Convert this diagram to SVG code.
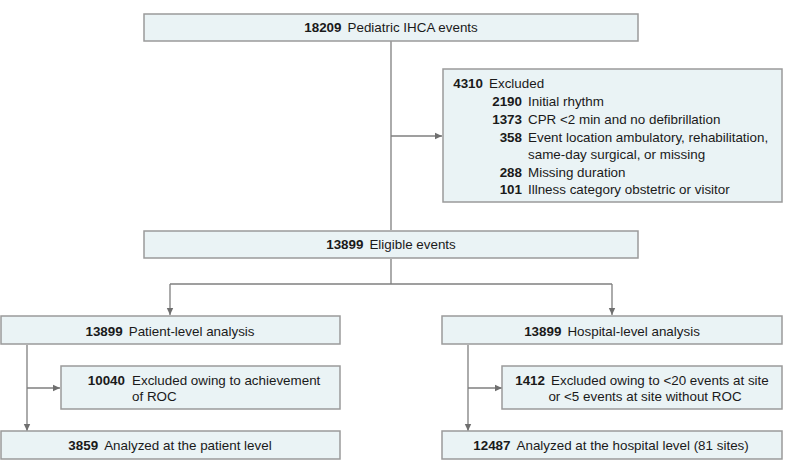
<svg xmlns="http://www.w3.org/2000/svg" width="789" height="473" viewBox="0 0 789 473">
<defs>
<style>
.box{fill:#eaf3f5;stroke:#9a9a9a;stroke-width:1.5}
.ln{fill:none;stroke:#7f7f7f;stroke-width:1.3}
text{font-family:"Liberation Sans",Arial,sans-serif;font-size:13.4px;fill:#1a1a1a}
.b{font-weight:bold}
.c{text-anchor:middle}
.r{text-anchor:end}
</style>
<marker id="ah" markerWidth="8" markerHeight="8" refX="7" refY="4" orient="auto" markerUnits="userSpaceOnUse">
<path d="M0,0.8 L7,4 L0,7.2 Z" fill="#6f6f6f"/>
</marker>
</defs>
<g id="connectors">
<line class="ln" x1="391" y1="41" x2="391" y2="230"/>
<line class="ln" x1="391" y1="136" x2="442" y2="136" marker-end="url(#ah)"/>
<line class="ln" x1="391" y1="259" x2="391" y2="284"/>
<line class="ln" x1="170" y1="284" x2="612" y2="284"/>
<line class="ln" x1="170" y1="284" x2="170" y2="315" marker-end="url(#ah)"/>
<line class="ln" x1="612" y1="284" x2="612" y2="315" marker-end="url(#ah)"/>
<line class="ln" x1="27" y1="345" x2="27" y2="431" marker-end="url(#ah)"/>
<line class="ln" x1="27" y1="388" x2="60" y2="388" marker-end="url(#ah)"/>
<line class="ln" x1="468" y1="345" x2="468" y2="431" marker-end="url(#ah)"/>
<line class="ln" x1="468" y1="388" x2="502" y2="388" marker-end="url(#ah)"/>
</g>
<g id="n-total">
<rect class="box" x="144" y="14" width="494" height="27"/>
<text class="c" x="391" y="32"><tspan class="b">18209</tspan><tspan dx="6">Pediatric IHCA events</tspan></text>
</g>
<g id="n-excluded">
<rect class="box" x="443" y="69" width="339" height="133"/>
<text class="r b" x="483" y="88">4310</text><text x="489" y="88">Excluded</text>
<text class="r b" x="522" y="106">2190</text><text x="528" y="106">Initial rhythm</text>
<text class="r b" x="522" y="124">1373</text><text x="528" y="124">CPR &lt;2 min and no defibrillation</text>
<text class="r b" x="522" y="142">358</text><text x="528" y="142">Event location ambulatory, rehabilitation,</text>
<text x="528" y="159">same-day surgical, or missing</text>
<text class="r b" x="522" y="177">288</text><text x="528" y="177">Missing duration</text>
<text class="r b" x="522" y="194">101</text><text x="528" y="194">Illness category obstetric or visitor</text>
</g>
<g id="n-eligible">
<rect class="box" x="144" y="231" width="494" height="27"/>
<text class="c" x="391" y="249"><tspan class="b">13899</tspan><tspan dx="6">Eligible events</tspan></text>
</g>
<g id="n-patient">
<rect class="box" x="1" y="316" width="339" height="28"/>
<text class="c" x="170" y="336"><tspan class="b">13899</tspan><tspan dx="6">Patient-level analysis</tspan></text>
</g>
<g id="n-patient-excl">
<rect class="box" x="61" y="366" width="279" height="43"/>
<text class="r b" x="125" y="385">10040</text><text x="132" y="385">Excluded owing to achievement</text>
<text x="132" y="401">of ROC</text>
</g>
<g id="n-patient-final">
<rect class="box" x="1" y="431" width="339" height="28"/>
<text class="c" x="170" y="450"><tspan class="b">3859</tspan><tspan dx="6">Analyzed at the patient level</tspan></text>
</g>
<g id="n-hospital">
<rect class="box" x="442" y="316" width="340" height="28"/>
<text class="c" x="612" y="336"><tspan class="b">13899</tspan><tspan dx="6">Hospital-level analysis</tspan></text>
</g>
<g id="n-hospital-excl">
<rect class="box" x="502" y="366" width="280" height="43"/>
<text class="c" x="642" y="385"><tspan class="b">1412</tspan><tspan dx="6">Excluded owing to &lt;20 events at site</tspan></text>
<text class="c" x="645" y="401">or &lt;5 events at site without ROC</text>
</g>
<g id="n-hospital-final">
<rect class="box" x="442" y="431" width="340" height="28"/>
<text class="c" x="611" y="450"><tspan class="b">12487</tspan><tspan dx="6">Analyzed at the hospital level (81 sites)</tspan></text>
</g>
</svg>
